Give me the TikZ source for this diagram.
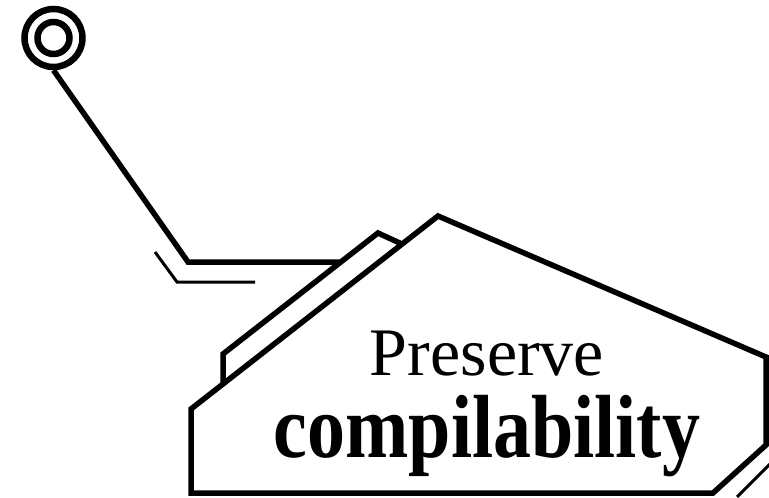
\documentclass[tikz,border=0pt]{standalone}
\usepackage{fontspec}
\usepackage{graphicx}
\setmainfont{Liberation Serif}
\begin{document}
\begin{tikzpicture}[x=1pt,y=-1pt,
  thickline/.style={line width=5.5pt, line join=miter},
  thinline/.style={line width=3pt},
  panel/.style={thickline, fill=white},
  ring/.style={circle, draw, line width=6.5pt, inner sep=0pt}]
\useasboundingbox (0,0) rectangle (769,498);
\clip (0,0) rectangle (769,498);
% pin
\node[ring, minimum size=58pt] (pin) at (53.5,38) {};
\node[ring, minimum size=32pt] (pincore) at (53.5,38) {};
\coordinate (bend) at (188,262);
\coordinate (join) at (360,262);
\draw[thickline] (pin.south) -- (bend) -- (join);
% shadow of connector
\coordinate (s1) at (155,252);
\coordinate (s2) at (177,282);
\coordinate (s3) at (255,282);
\draw[thinline] (s1) -- (s2) -- (s3);
% back panel
\draw[panel] (223,430) -- (223,354) -- (378,233) -- (480,280) -- (480,430) -- cycle;
% main panel
\draw[panel] (438,216) -- (766,357) -- (766,445) -- (713,493) -- (191,493) -- (191,409) -- cycle;
% shadow bottom right
\coordinate (r1) at (737,497);
\coordinate (r2) at (775,459);
\draw[thinline] (r1) -- (r2);
% text
\node[font=\fontsize{68}{68}\selectfont, anchor=base, inner sep=0pt] (t1) at (487,375) {Preserve};
\node[font=\fontsize{76}{76}\selectfont\bfseries, anchor=base, inner sep=0pt] (t2) at (487,457) {\scalebox{1}[1.18]{compilability}};
\end{tikzpicture}
\end{document}
